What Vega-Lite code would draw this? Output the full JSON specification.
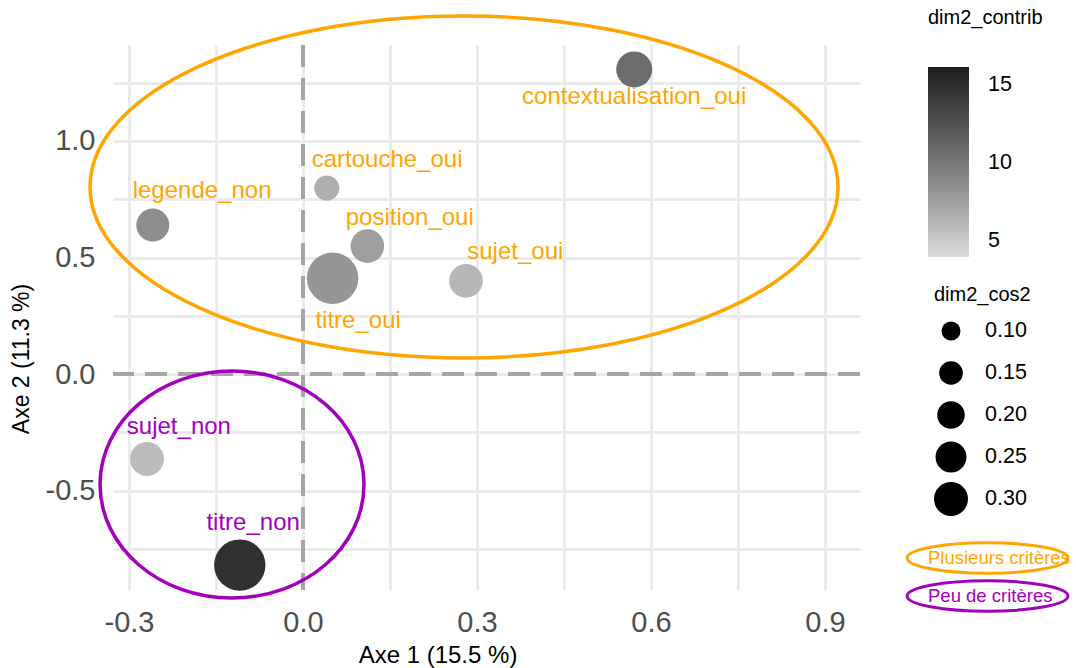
{
  "$schema": "https://vega.github.io/schema/vega-lite/v6.json",
  "width": 747,
  "height": 545,
  "autosize": {"type": "none"},
  "padding": {"left": 113, "top": 45, "right": 216, "bottom": 78},
  "background": "white",
  "config": {"font": "Liberation Sans", "view": {"stroke": null}},
  "datasets": {
    "vars": [
      {"label": "contextualisation_oui", "dim1": 0.571, "dim2": 1.307, "lx": 0.571, "ly": 1.19, "contrib": 10.7, "cos2": 0.335, "groupe": "Plusieurs critères"},
      {"label": "cartouche_oui", "dim1": 0.041, "dim2": 0.798, "lx": 0.145, "ly": 0.917, "contrib": 6.6, "cos2": 0.167, "groupe": "Plusieurs critères"},
      {"label": "legende_non", "dim1": -0.259, "dim2": 0.639, "lx": -0.174, "ly": 0.787, "contrib": 8.6, "cos2": 0.283, "groupe": "Plusieurs critères"},
      {"label": "position_oui", "dim1": 0.111, "dim2": 0.549, "lx": 0.184, "ly": 0.671, "contrib": 7.6, "cos2": 0.293, "groupe": "Plusieurs critères"},
      {"label": "titre_oui", "dim1": 0.051, "dim2": 0.411, "lx": 0.095, "ly": 0.229, "contrib": 8.1, "cos2": 0.678, "groupe": "Plusieurs critères"},
      {"label": "sujet_oui", "dim1": 0.281, "dim2": 0.4, "lx": 0.366, "ly": 0.525, "contrib": 6.1, "cos2": 0.295, "groupe": "Plusieurs critères"},
      {"label": "sujet_non", "dim1": -0.269, "dim2": -0.365, "lx": -0.214, "ly": -0.228, "contrib": 5.8, "cos2": 0.3, "groupe": "Peu de critères"},
      {"label": "titre_non", "dim1": -0.109, "dim2": -0.82, "lx": -0.086, "ly": -0.641, "contrib": 14.8, "cos2": 0.673, "groupe": "Peu de critères"}
    ]
  },
  "layer": [
    {
      "data": {"values": [{}]},
      "mark": {"type": "rule", "color": "#A5A5A5", "strokeWidth": 4, "strokeDash": [22, 11]},
      "encoding": {
        "x": {"datum": 0, "type": "quantitative", "scale": {"domain": [-0.3276, 0.9603], "nice": false, "zero": false}}
      }
    },
    {
      "data": {"values": [{}]},
      "mark": {"type": "rule", "color": "#A5A5A5", "strokeWidth": 4, "strokeDash": [22, 11]},
      "encoding": {
        "y": {"datum": 0, "type": "quantitative", "scale": {"domain": [-0.927, 1.412], "nice": false, "zero": false}}
      }
    },
    {
      "data": {"name": "vars"},
      "mark": {"type": "circle", "opacity": 1},
      "encoding": {
        "x": {
          "field": "dim1", "type": "quantitative",
          "scale": {"domain": [-0.3276, 0.9603], "nice": false, "zero": false},
          "axis": {
            "title": "Axe 1 (15.5 %)",
            "values": [-0.3, -0.15, 0, 0.15, 0.3, 0.45, 0.6, 0.75, 0.9],
            "labelExpr": "abs(datum.value*10/3 - round(datum.value*10/3)) < 0.01 ? replace(format(datum.value, '.1f'), '\u2212', '-') : ''",
            "grid": true, "gridColor": "#EBEBEB", "gridWidth": 3,
            "ticks": false, "domain": false,
            "labelFontSize": 29, "labelColor": "#4D4D4D", "labelPadding": 18,
            "labelFlush": false, "labelOverlap": false, "labelBound": false,
            "titleFontSize": 24, "titleFontWeight": "normal", "titleColor": "#000000",
            "titleX": 324.5, "titleY": 65, "titleAlign": "center", "titleBaseline": "middle"
          }
        },
        "y": {
          "field": "dim2", "type": "quantitative",
          "scale": {"domain": [-0.927, 1.412], "nice": false, "zero": false},
          "axis": {
            "title": "Axe 2 (11.3 %)",
            "values": [-0.75, -0.5, -0.25, 0, 0.25, 0.5, 0.75, 1, 1.25],
            "labelExpr": "abs(datum.value*2 - round(datum.value*2)) < 0.01 ? replace(format(datum.value, '.1f'), '\u2212', '-') : ''",
            "grid": true, "gridColor": "#EBEBEB", "gridWidth": 3,
            "ticks": false, "domain": false,
            "labelFontSize": 29, "labelColor": "#4D4D4D", "labelPadding": 18,
            "labelFlush": false, "labelOverlap": false, "labelBound": false,
            "titleFontSize": 23, "titleFontWeight": "normal", "titleColor": "#000000",
            "titleX": -92, "titleY": 313.5, "titleAlign": "center", "titleBaseline": "middle", "titleAngle": -90
          }
        },
        "fill": {
          "field": "contrib", "type": "quantitative",
          "scale": {"domain": [3.97, 16.15], "range": ["#DCDCDC", "#1F1F1F"], "interpolate": "lab"},
          "legend": {
            "title": "dim2_contrib", "orient": "none", "legendX": 815, "legendY": -37,
            "direction": "vertical", "gradientLength": 190, "gradientThickness": 41,
            "gradientStrokeWidth": 0, "values": [5, 10, 15],
            "labelOffset": 19, "labelFontSize": 21.5, "labelColor": "#000000",
            "titleFontSize": 20, "titleFontWeight": "normal", "titleColor": "#000000", "titlePadding": 39
          }
        },
        "size": {
          "field": "cos2", "type": "quantitative",
          "scale": {"type": "linear", "domain": [0.1, 0.3], "range": [361, 1156], "zero": false, "nice": false},
          "legend": {
            "title": "dim2_cos2", "orient": "none", "legendX": 821, "legendY": 240,
            "values": [0.1, 0.15, 0.2, 0.25, 0.3], "format": ".2f",
            "symbolType": "circle", "symbolFillColor": "#000000", "symbolStrokeWidth": 0, "symbolOpacity": 1,
            "labelFontSize": 21.5, "labelColor": "#000000", "labelOffset": 17,
            "titleFontSize": 20, "titleFontWeight": "normal", "titleColor": "#000000", "titlePadding": 9,
            "clipHeight": 34, "rowPadding": 8
          }
        }
      }
    },
    {
      "data": {"name": "vars"},
      "mark": {"type": "text", "fontSize": 24, "align": "center", "baseline": "middle"},
      "encoding": {
        "x": {"field": "lx", "type": "quantitative", "scale": {"domain": [-0.3276, 0.9603], "nice": false, "zero": false}},
        "y": {"field": "ly", "type": "quantitative", "scale": {"domain": [-0.927, 1.412], "nice": false, "zero": false}},
        "text": {"field": "label", "type": "nominal"},
        "color": {
          "condition": {"test": "datum.groupe === 'Peu de critères'", "value": "#A300BE"},
          "value": "#FFA500"
        }
      }
    },
    {
      "data": {"values": [{"groupe": "Plusieurs critères", "cx": 0.2776, "cy": 0.8026}]},
      "mark": {
        "type": "point", "filled": false, "opacity": 1, "strokeWidth": 3.5, "size": 559504,
        "shape": "M-1,0C-1,-0.2524,-0.5523,-0.457,0,-0.457C0.5523,-0.457,1,-0.2524,1,0C1,0.2524,0.5523,0.457,0,0.457C-0.5523,0.457,-1,0.2524,-1,0Z"
      },
      "encoding": {
        "x": {"field": "cx", "type": "quantitative", "scale": {"domain": [-0.3276, 0.9603], "nice": false, "zero": false}},
        "y": {"field": "cy", "type": "quantitative", "scale": {"domain": [-0.927, 1.412], "nice": false, "zero": false}},
        "stroke": {
          "field": "groupe", "type": "nominal",
          "scale": {"domain": ["Plusieurs critères", "Peu de critères"], "range": ["#FFA500", "#A300BE"]},
          "legend": {
            "title": null, "orient": "none", "legendX": 792.5, "legendY": 495,
            "symbolType": "M-1,0C-1,-0.105,-0.5523,-0.19,0,-0.19C0.5523,-0.19,1,-0.105,1,0C1,0.105,0.5523,0.19,0,0.19C-0.5523,0.19,-1,0.105,-1,0Z",
            "symbolSize": 25921, "symbolStrokeWidth": 3, "symbolFillColor": "transparent",
            "labelFontSize": 18.5, "labelOffset": -141.5, "labelLimit": 0,
            "labelColor": {"expr": "datum.value === 'Plusieurs critères' ? '#FFA500' : '#A300BE'"},
            "clipHeight": 36, "rowPadding": 2,
            "encode": {
              "symbols": {"update": {"shape": {"value": "M-1,0C-1,-0.105,-0.5523,-0.19,0,-0.19C0.5523,-0.19,1,-0.105,1,0C1,0.105,0.5523,0.19,0,0.19C-0.5523,0.19,-1,0.105,-1,0Z"}, "size": {"value": 25921}, "strokeWidth": {"value": 3}}}
            }
          }
        }
      }
    },
    {
      "data": {"values": [{"groupe": "Peu de critères", "cx": -0.1224, "cy": -0.474}]},
      "mark": {
        "type": "point", "filled": false, "opacity": 1, "strokeWidth": 3.5, "size": 69696,
        "shape": "M-1,0C-1,-0.475,-0.5523,-0.86,0,-0.86C0.5523,-0.86,1,-0.475,1,0C1,0.475,0.5523,0.86,0,0.86C-0.5523,0.86,-1,0.475,-1,0Z"
      },
      "encoding": {
        "x": {"field": "cx", "type": "quantitative", "scale": {"domain": [-0.3276, 0.9603], "nice": false, "zero": false}},
        "y": {"field": "cy", "type": "quantitative", "scale": {"domain": [-0.927, 1.412], "nice": false, "zero": false}},
        "stroke": {
          "field": "groupe", "type": "nominal",
          "scale": {"domain": ["Plusieurs critères", "Peu de critères"], "range": ["#FFA500", "#A300BE"]}
        }
      }
    }
  ]
}
